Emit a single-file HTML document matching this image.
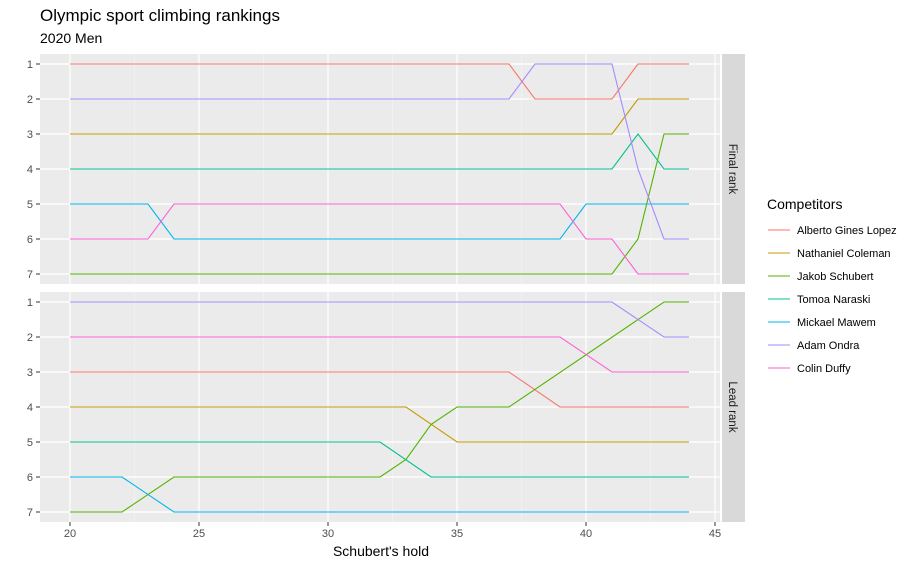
<!DOCTYPE html>
<html><head><style>body{margin:0;background:#fff}svg{display:block}text{font-family:"Liberation Sans",sans-serif}</style></head>
<body>
<svg width="920" height="567" viewBox="0 0 920 567" xmlns="http://www.w3.org/2000/svg">
<rect width="920" height="567" fill="#fff"/>
<text x="40" y="21" font-size="17" fill="#000">Olympic sport climbing rankings</text>
<text x="40" y="43" font-size="14" fill="#000">2020 Men</text>
<rect x="40" y="54" width="680" height="230" fill="#EBEBEB"/>
<rect x="40" y="292" width="680" height="230" fill="#EBEBEB"/>
<rect x="722" y="54" width="23" height="230" fill="#D9D9D9"/>
<rect x="722" y="292" width="23" height="230" fill="#D9D9D9"/>
<text transform="translate(729,169) rotate(90)" font-size="11.5" fill="#1a1a1a" text-anchor="middle">Final rank</text>
<text transform="translate(729,407) rotate(90)" font-size="11.5" fill="#1a1a1a" text-anchor="middle">Lead rank</text>
<g stroke="#F5F5F5" stroke-width="0.6">
<line x1="134.5" y1="54" x2="134.5" y2="284"/><line x1="263.5" y1="54" x2="263.5" y2="284"/><line x1="392.5" y1="54" x2="392.5" y2="284"/><line x1="521.5" y1="54" x2="521.5" y2="284"/><line x1="650.5" y1="54" x2="650.5" y2="284"/>
<line x1="134.5" y1="292" x2="134.5" y2="522"/><line x1="263.5" y1="292" x2="263.5" y2="522"/><line x1="392.5" y1="292" x2="392.5" y2="522"/><line x1="521.5" y1="292" x2="521.5" y2="522"/><line x1="650.5" y1="292" x2="650.5" y2="522"/>
</g>
<g stroke="#fff" stroke-width="1.2">
<line x1="70" y1="54" x2="70" y2="284"/><line x1="199" y1="54" x2="199" y2="284"/><line x1="328" y1="54" x2="328" y2="284"/><line x1="457" y1="54" x2="457" y2="284"/><line x1="586" y1="54" x2="586" y2="284"/><line x1="715" y1="54" x2="715" y2="284"/>
<line x1="70" y1="292" x2="70" y2="522"/><line x1="199" y1="292" x2="199" y2="522"/><line x1="328" y1="292" x2="328" y2="522"/><line x1="457" y1="292" x2="457" y2="522"/><line x1="586" y1="292" x2="586" y2="522"/><line x1="715" y1="292" x2="715" y2="522"/>
<line x1="40" y1="64" x2="720" y2="64"/><line x1="40" y1="99" x2="720" y2="99"/><line x1="40" y1="134" x2="720" y2="134"/><line x1="40" y1="169" x2="720" y2="169"/><line x1="40" y1="204" x2="720" y2="204"/><line x1="40" y1="239" x2="720" y2="239"/><line x1="40" y1="274" x2="720" y2="274"/>
<line x1="40" y1="302" x2="720" y2="302"/><line x1="40" y1="337" x2="720" y2="337"/><line x1="40" y1="372" x2="720" y2="372"/><line x1="40" y1="407" x2="720" y2="407"/><line x1="40" y1="442" x2="720" y2="442"/><line x1="40" y1="477" x2="720" y2="477"/><line x1="40" y1="512" x2="720" y2="512"/>
</g>
<g font-size="11" fill="#4D4D4D" text-anchor="end">
<text x="33" y="68">1</text><text x="33" y="103">2</text><text x="33" y="138">3</text><text x="33" y="173">4</text><text x="33" y="208">5</text><text x="33" y="243">6</text><text x="33" y="278">7</text>
<text x="33" y="306">1</text><text x="33" y="341">2</text><text x="33" y="376">3</text><text x="33" y="411">4</text><text x="33" y="446">5</text><text x="33" y="481">6</text><text x="33" y="516">7</text>
</g>
<g stroke="#333" stroke-width="1">
<line x1="36" y1="64" x2="40" y2="64"/><line x1="36" y1="99" x2="40" y2="99"/><line x1="36" y1="134" x2="40" y2="134"/><line x1="36" y1="169" x2="40" y2="169"/><line x1="36" y1="204" x2="40" y2="204"/><line x1="36" y1="239" x2="40" y2="239"/><line x1="36" y1="274" x2="40" y2="274"/>
<line x1="36" y1="302" x2="40" y2="302"/><line x1="36" y1="337" x2="40" y2="337"/><line x1="36" y1="372" x2="40" y2="372"/><line x1="36" y1="407" x2="40" y2="407"/><line x1="36" y1="442" x2="40" y2="442"/><line x1="36" y1="477" x2="40" y2="477"/><line x1="36" y1="512" x2="40" y2="512"/>
<line x1="70" y1="522" x2="70" y2="526"/><line x1="199" y1="522" x2="199" y2="526"/><line x1="328" y1="522" x2="328" y2="526"/><line x1="457" y1="522" x2="457" y2="526"/><line x1="586" y1="522" x2="586" y2="526"/><line x1="715" y1="522" x2="715" y2="526"/>
</g>
<g font-size="11" fill="#4D4D4D" text-anchor="middle">
<text x="70" y="537">20</text><text x="199" y="537">25</text><text x="328" y="537">30</text><text x="457" y="537">35</text><text x="586" y="537">40</text><text x="715" y="537">45</text>
</g>
<text x="381" y="556" font-size="14" text-anchor="middle" fill="#000">Schubert's hold</text>
<g fill="none" stroke-width="1.1">
<polyline stroke="#F8766D" points="70,64 509,64 535,99 612,99 638,64 689,64"/>
<polyline stroke="#C49A00" points="70,134 612,134 638,99 689,99"/>
<polyline stroke="#53B400" points="70,274 612,274 638,239 664,134 689,134"/>
<polyline stroke="#00C094" points="70,169 612,169 638,134 664,169 689,169"/>
<polyline stroke="#00B6EB" points="70,204 148,204 174,239 560,239 586,204 689,204"/>
<polyline stroke="#A58AFF" points="70,99 509,99 535,64 612,64 638,169 664,239 689,239"/>
<polyline stroke="#FB61D7" points="70,239 148,239 174,204 560,204 586,239 612,239 638,274 689,274"/>
<polyline stroke="#F8766D" points="70,372 509,372 560,407 689,407"/>
<polyline stroke="#C49A00" points="70,407 406,407 457,442 689,442"/>
<polyline stroke="#53B400" points="70,512 122,512 174,477 380,477 406,459.5 431,424.5 457,407 509,407 664,302 689,302"/>
<polyline stroke="#00C094" points="70,442 380,442 431,477 689,477"/>
<polyline stroke="#00B6EB" points="70,477 122,477 174,512 689,512"/>
<polyline stroke="#A58AFF" points="70,302 612,302 664,337 689,337"/>
<polyline stroke="#FB61D7" points="70,337 560,337 612,372 689,372"/>
</g>
<text x="767" y="209" font-size="14" fill="#000">Competitors</text>
<g stroke-width="1.1">
<line x1="768" y1="230" x2="790" y2="230" stroke="#F8766D"/>
<line x1="768" y1="253" x2="790" y2="253" stroke="#C49A00"/>
<line x1="768" y1="276" x2="790" y2="276" stroke="#53B400"/>
<line x1="768" y1="299" x2="790" y2="299" stroke="#00C094"/>
<line x1="768" y1="322" x2="790" y2="322" stroke="#00B6EB"/>
<line x1="768" y1="345" x2="790" y2="345" stroke="#A58AFF"/>
<line x1="768" y1="368" x2="790" y2="368" stroke="#FB61D7"/>
</g>
<g font-size="11" fill="#000">
<text x="797" y="234">Alberto Gines Lopez</text>
<text x="797" y="257">Nathaniel Coleman</text>
<text x="797" y="280">Jakob Schubert</text>
<text x="797" y="303">Tomoa Naraski</text>
<text x="797" y="326">Mickael Mawem</text>
<text x="797" y="349">Adam Ondra</text>
<text x="797" y="372">Colin Duffy</text>
</g>
</svg>
</body></html>
